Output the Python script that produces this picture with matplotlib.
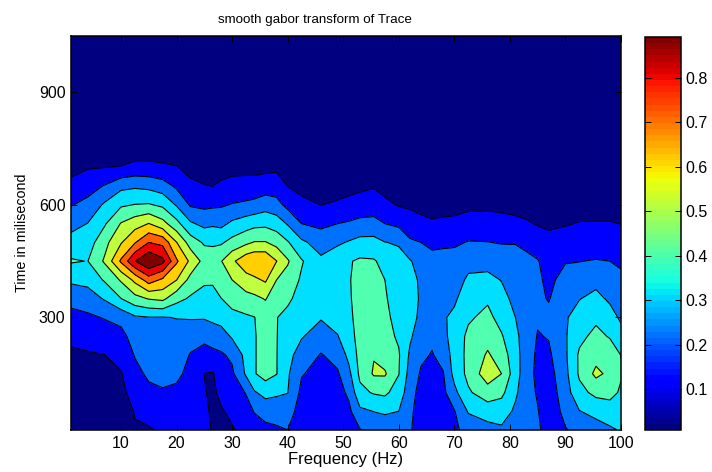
# -*- coding: utf-8 -*-
# smooth gabor transform of Trace - filled contour with jet style bands
import numpy as np
import matplotlib
matplotlib.use('Agg')
import matplotlib.pyplot as plt
from matplotlib.colors import Normalize

plt.rcParams['font.family'] = ['Liberation Sans', 'DejaVu Sans']

time_ms = [0, 50, 100, 150, 200, 250, 300, 350, 400, 450, 500, 550, 600, 650, 700, 750, 1050]
freq_hz = [1, 4, 7, 10, 12.5, 15, 17.5, 20, 22.5, 25, 26.5, 28, 30, 32.5, 34, 36, 38, 40, 42.5,
           46, 49, 51, 53, 55.5, 57.5, 60, 62, 64, 66, 68, 70, 72.5, 76, 78.5, 81, 83, 85, 87,
           90, 92.5, 95.5, 98, 100]

# one row per frequency, one value per time
power = [
    [.04, .05, .06, .07, .085, .11, .16, .21, .29, .37, .31, .24, .18, .12, .07, .05, .01],
    [.04, .05, .06, .075, .09, .12, .17, .23, .30, .36, .32, .275, .21, .15, .09, .05, .01],
    [.04, .05, .07, .08, .095, .14, .19, .28, .37, .46, .42, .35, .285, .19, .095, .05, .01],
    [.045, .06, .075, .09, .125, .16, .21, .36, .46, .64, .53, .455, .35, .25, .10, .05, .01],
    [.09, .10, .13, .16, .19, .22, .26, .42, .56, .80, .62, .50, .365, .26, .12, .05, .01],
    [.09, .12, .165, .20, .22, .245, .27, .455, .67, .892, .715, .54, .37, .25, .12, .05, .01],
    [.105, .14, .18, .20, .225, .245, .27, .47, .61, .83, .69, .48, .345, .225, .11, .05, .01],
    [.12, .14, .17, .20, .23, .25, .275, .39, .54, .64, .54, .39, .265, .17, .10, .05, .01],
    [.13, .14, .15, .165, .18, .22, .28, .35, .42, .52, .41, .285, .175, .115, .07, .04, .01],
    [.12, .11, .10, .095, .15, .21, .28, .32, .38, .42, .35, .25, .165, .10, .06, .04, .01],
    [.09, .085, .085, .09, .165, .22, .295, .33, .375, .42, .345, .26, .17, .095, .06, .04, .01],
    [.07, .09, .11, .135, .175, .23, .31, .36, .41, .445, .35, .25, .175, .11, .065, .04, .01],
    [.09, .11, .135, .17, .20, .285, .34, .39, .45, .52, .39, .29, .19, .125, .07, .04, .01],
    [.12, .15, .19, .285, .30, .32, .35, .42, .50, .60, .43, .32, .20, .13, .07, .04, .01],
    [.14, .19, .265, .355, .355, .355, .36, .43, .52, .62, .455, .335, .21, .13, .07, .04, .01],
    [.16, .22, .30, .40, .40, .40, .40, .455, .55, .62, .455, .34, .235, .14, .075, .04, .01],
    [.17, .23, .285, .365, .365, .365, .365, .40, .45, .54, .42, .32, .215, .14, .08, .04, .01],
    [.185, .23, .275, .285, .30, .32, .335, .38, .415, .46, .37, .265, .16, .095, .06, .04, .01],
    [.12, .14, .165, .19, .235, .28, .30, .325, .35, .37, .29, .185, .115, .075, .05, .04, .01],
    [.10, .12, .14, .16, .18, .23, .28, .31, .325, .29, .235, .165, .095, .065, .05, .04, .01],
    [.11, .13, .155, .175, .215, .27, .30, .32, .33, .33, .26, .185, .105, .07, .05, .04, .01],
    [.135, .165, .20, .25, .295, .32, .34, .35, .355, .355, .28, .195, .115, .075, .05, .04, .01],
    [.18, .255, .34, .38, .39, .40, .40, .40, .395, .375, .30, .21, .13, .08, .05, .04, .01],
    [.21, .275, .37, .46, .445, .42, .41, .405, .39, .37, .30, .215, .135, .09, .05, .04, .01],
    [.22, .285, .38, .46, .41, .39, .38, .37, .362, .335, .275, .185, .115, .07, .05, .04, .01],
    [.22, .273, .32, .365, .37, .35, .335, .325, .315, .30, .265, .165, .09, .06, .045, .04, .01],
    [.20, .21, .225, .24, .26, .285, .295, .30, .30, .28, .20, .13, .085, .06, .045, .04, .01],
    [.11, .13, .15, .175, .20, .23, .26, .265, .26, .24, .185, .115, .075, .05, .045, .04, .01],
    [.11, .125, .145, .165, .18, .20, .225, .24, .235, .22, .16, .105, .07, .05, .045, .04, .01],
    [.13, .15, .165, .18, .215, .25, .265, .265, .25, .225, .165, .11, .07, .05, .045, .04, .01],
    [.165, .18, .25, .30, .31, .31, .29, .26, .24, .225, .17, .115, .07, .05, .045, .04, .01],
    [.22, .28, .35, .385, .385, .38, .35, .32, .285, .25, .19, .125, .08, .055, .045, .04, .01],
    [.24, .315, .41, .50, .46, .42, .385, .35, .295, .245, .187, .13, .08, .055, .045, .04, .01],
    [.26, .31, .385, .45, .41, .37, .33, .30, .27, .235, .18, .125, .075, .055, .045, .04, .01],
    [.23, .26, .285, .31, .305, .29, .273, .25, .24, .225, .18, .115, .07, .05, .045, .04, .01],
    [.23, .23, .225, .22, .225, .235, .24, .23, .225, .21, .16, .105, .065, .05, .045, .04, .01],
    [.21, .19, .175, .165, .17, .18, .195, .20, .20, .19, .14, .09, .06, .05, .045, .04, .01],
    [.12, .13, .135, .15, .17, .19, .205, .18, .165, .15, .115, .085, .06, .05, .045, .04, .01],
    [.18, .21, .235, .25, .26, .265, .265, .245, .215, .18, .135, .09, .06, .05, .045, .04, .01],
    [.21, .27, .335, .375, .375, .34, .305, .27, .23, .183, .145, .10, .065, .05, .045, .04, .01],
    [.235, .30, .385, .47, .42, .385, .345, .295, .25, .19, .14, .10, .07, .05, .045, .04, .01],
    [.26, .32, .39, .43, .41, .355, .305, .26, .225, .185, .14, .10, .07, .05, .045, .04, .01],
    [.28, .31, .35, .37, .36, .30, .26, .23, .205, .17, .13, .095, .07, .05, .045, .04, .01],
]

levels = [0.008, 0.096, 0.185, 0.273, 0.362, 0.45, 0.538, 0.627, 0.715, 0.804, 0.892]
band_colors = ['#000080', '#0000ff', '#0070ff', '#00dfff', '#50ffaf',
               '#bfff40', '#ffcf00', '#ff6000', '#ef0000', '#800000']

W, H = 712, 472
fig = plt.figure(figsize=(W / 100, H / 100), dpi=100)
ax = fig.add_axes([71 / W, 1 - 430 / H, 550 / W, 394 / H])
cax = fig.add_axes([645 / W, 1 - 430 / H, 36 / W, 393 / H])

Z = np.array(power).T
ax.contourf(freq_hz, time_ms, Z, levels=levels, colors=band_colors, extend='neither')
ax.contour(freq_hz, time_ms, Z, levels=levels[1:-1], colors='k', linewidths=0.8)

ax.set_xlim(1, 100)
ax.set_ylim(0, 1050)
ax.set_xticks(range(10, 101, 10))
ax.set_yticks([300, 600, 900])
ax.tick_params(direction='in', top=True, right=True, length=4.5, width=0.7, labelsize=11.5, pad=4)
ax.set_xlabel('Frequency (Hz)', fontsize=12, labelpad=1)
ax.set_ylabel('Time in milisecond', fontsize=10.3, labelpad=7)
ax.set_title('smooth gabor transform of Trace', fontsize=9.6, pad=9, x=0.443)

sm = plt.cm.ScalarMappable(norm=Normalize(0.008, 0.892), cmap=plt.get_cmap('jet', 64))
cb = fig.colorbar(sm, cax=cax)
cb.set_ticks([0.1, 0.2, 0.3, 0.4, 0.5, 0.6, 0.7, 0.8])
cb.ax.tick_params(direction='in', left=True, right=True, length=4.5, width=0.7, labelsize=11.5, pad=3)

for a in (ax, cax):
    for s in a.spines.values():
        s.set_linewidth(1.1)

fig.savefig('out.png', dpi=100)
